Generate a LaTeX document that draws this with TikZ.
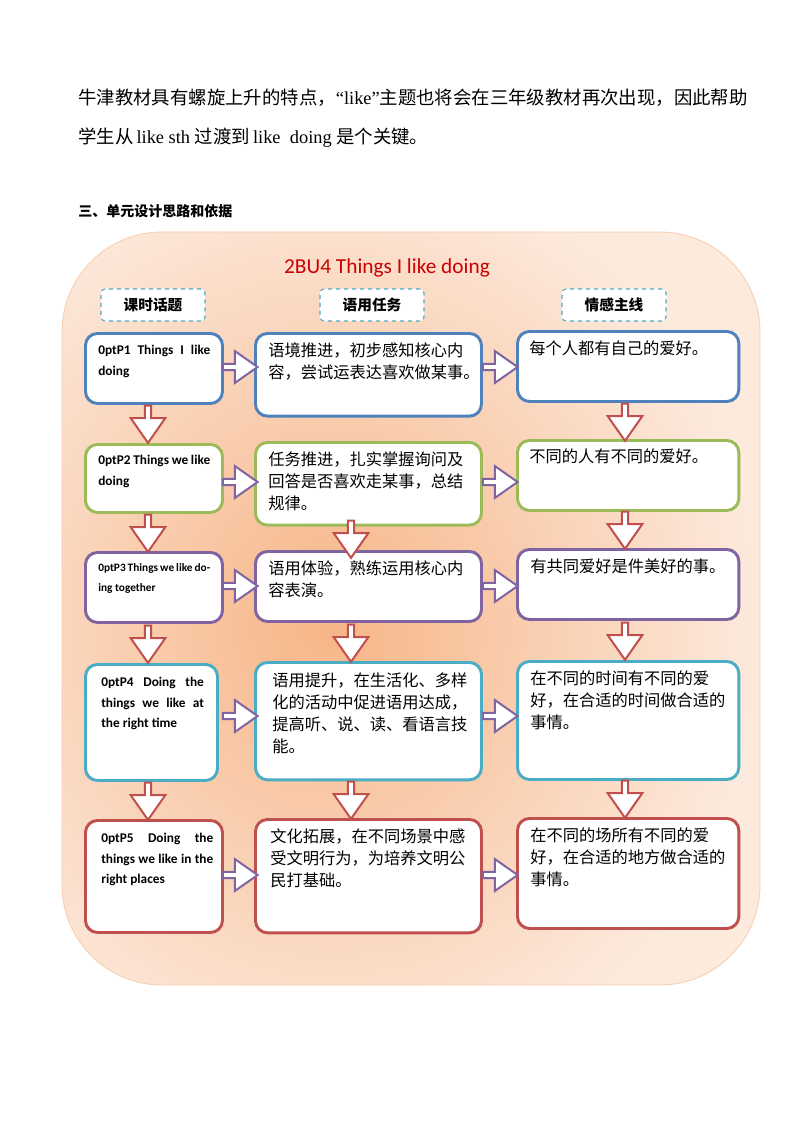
\documentclass[tikz,border=0pt]{standalone}
\usepackage{fontspec}
\setmainfont{Liberation Serif}
\newfontfamily\cjk{Noto Sans CJK SC}
\newfontfamily\carl{Carlito}
\usetikzlibrary{shapes.arrows}
\definecolor{cblue}{HTML}{4F81BD}
\definecolor{cgreen}{HTML}{9BBB59}
\definecolor{cpurple}{HTML}{8064A2}
\definecolor{cteal}{HTML}{4BACC6}
\definecolor{cred}{HTML}{C0504D}
\definecolor{corange}{HTML}{F6B88E}
\tikzset{
 bx/.style={draw,line width=2.2pt,rounded corners=9pt,fill=white,anchor=north west,inner sep=0pt},
 hd/.style={draw=cteal,dashed,line width=0.8pt,fill=white,rounded corners=3pt,minimum width=78pt,minimum height=24pt,font=\cjk\bfseries\fontsize{11}{13}\selectfont},
 harr/.style={single arrow,draw=cpurple,line width=1.5pt,fill=white,minimum height=26pt,minimum width=24pt,single arrow head extend=3pt,inner sep=0pt,single arrow tip angle=70},
 varr/.style={single arrow,draw=cred,line width=1.5pt,fill=white,minimum height=28pt,minimum width=26pt,single arrow head extend=3.5pt,inner sep=0pt,shape border rotate=270,single arrow tip angle=70},
 ct/.style={font=\cjk\fontsize{12.2}{16.5}\selectfont,align=left,anchor=north west,inner sep=0pt},
 pt/.style={font=\carl\bfseries\fontsize{10}{15.5}\selectfont\hyphenpenalty=10000,align=justify,anchor=north west,inner sep=0pt,text width=84pt}
}
\begin{document}
\begin{tikzpicture}[x=0.75pt,y=-0.75pt]
\useasboundingbox[fill=white] (0,0) rectangle (794,1123);
\node[anchor=west,inner sep=0pt,font=\fontsize{13.8}{16}\selectfont] (l1) at (78,98) {{\cjk 牛津教材具有螺旋上升的特点，}“like”{\cjk 主题也将会在三年级教材再次出现，因此帮助}};
\node[anchor=west,inner sep=0pt,font=\fontsize{13.8}{16}\selectfont] (l2) at (78,138) {{\cjk 学生从}\,like sth {\cjk 过渡到}\,like\ \ doing {\cjk 是个关键。}};
\node[anchor=west,inner sep=0pt,font=\cjk\bfseries\fontsize{10.5}{13}\selectfont] (l3) at (78,211) {三、单元设计思路和依据};
\begin{scope}
\clip[rounded corners=75pt] (62,232) rectangle (760,985);
\fill[corange!30] (62,232) rectangle (760,985);
\shade[inner color=corange!95!orange,outer color=corange!30] (-100,150) rectangle (760,1100);
\end{scope}
\draw[draw=corange!70,line width=0.6pt,rounded corners=75pt] (62,232) rectangle (760,985);
\node[text=red!80!black,font=\carl\fontsize{16}{18}\selectfont] (t) at (387,268) {2BU4 Things I like doing};
\node[hd] (h1) at (153,305) {课时话题};
\node[hd] (h2) at (372,305) {语用任务};
\node[hd] (h3) at (614,305) {情感主线};
% column 1
\node[bx,draw=cblue,minimum width=102.75pt,minimum height=52.5pt] (a1) at (84,332) {};
\node[bx,draw=cgreen,minimum width=102.75pt,minimum height=51pt] (a2) at (84,443) {};
\node[bx,draw=cpurple,minimum width=102.75pt,minimum height=52.5pt] (a3) at (84,551) {};
\node[bx,draw=cteal,minimum width=99pt,minimum height=87pt] (a4) at (84,663) {};
\node[bx,draw=cred,minimum width=102.75pt,minimum height=84pt] (a5) at (84,819) {};
% column 2
\node[bx,draw=cblue,minimum width=169.5pt,minimum height=62pt] (b1) at (254,332) {};
\node[bx,draw=cgreen,minimum width=169.5pt,minimum height=62pt] (b2) at (254,441) {};
\node[bx,draw=cpurple,minimum width=169.5pt,minimum height=52.5pt] (b3) at (254,550) {};
\node[bx,draw=cteal,minimum width=169.5pt,minimum height=88pt] (b4) at (254,661) {};
\node[bx,draw=cred,minimum width=169.5pt,minimum height=85pt] (b5) at (254,818) {};
% column 3
\node[bx,draw=cblue,minimum width=166pt,minimum height=52.5pt] (c1) at (516,330) {};
\node[bx,draw=cgreen,minimum width=166pt,minimum height=52.5pt] (c2) at (516,439) {};
\node[bx,draw=cpurple,minimum width=166pt,minimum height=52.5pt] (c3) at (516,548) {};
\node[bx,draw=cteal,minimum width=166pt,minimum height=88.5pt] (c4) at (516,660) {};
\node[bx,draw=cred,minimum width=166pt,minimum height=82.5pt] (c5) at (516,817) {};
% texts col1
\node[pt] at (98,345) {P1 Things I like doing};
\node[pt] at (98,455) {P2 Things we like doing};
\node[pt,font=\carl\bfseries\fontsize{8.5}{15.5}\selectfont\hyphenpenalty=10000] at (98,563) {P3 Things we like doing together};
\node[pt,text width=77pt] at (101,677) {P4 Doing the things we like at the right time};
\node[pt] at (101,833) {P5 Doing the things we like in the right places};
% texts col2
\node[ct] at (268,342) {语境推进，初步感知核心内\\容，尝试运表达喜欢做某事。};
\node[ct] at (268,451) {任务推进，扎实掌握询问及\\回答是否喜欢走某事，总结\\规律。};
\node[ct] at (268,560) {语用体验，熟练运用核心内\\容表演。};
\node[ct] at (272,673) {语用提升，在生活化、多样\\化的活动中促进语用达成，\\提高听、说、读、看语言技\\能。};
\node[ct] at (270,828) {文化拓展，在不同场景中感\\受文明行为，为培养文明公\\民打基础。};
% texts col3
\node[ct] at (529,340) {每个人都有自己的爱好。};
\node[ct] at (529,449) {不同的人有不同的爱好。};
\node[ct] at (530,558) {有共同爱好是件美好的事。};
\node[ct] at (530,670) {在不同的时间有不同的爱\\好，在合适的时间做合适的\\事情。};
\node[ct] at (530,827) {在不同的场所有不同的爱\\好，在合适的地方做合适的\\事情。};
% horizontal arrows
\foreach \i/\y in {1/367,2/482,3/586,4/716,5/875}{
 \node[harr] (ha\i) at (238,\y) {};
 \node[harr] (hb\i) at (498,\y) {};
}
% vertical arrows
\node[varr] (va1) at (148,422) {};
\node[varr] (va2) at (148,531) {};
\node[varr] (va3) at (148,642) {};
\node[varr] (va4) at (148,799) {};
\node[varr] (vb2) at (351,537) {};
\node[varr] (vb3) at (351,641) {};
\node[varr] (vb4) at (351,798) {};
\node[varr] (vc1) at (625,420) {};
\node[varr] (vc2) at (625,528) {};
\node[varr] (vc3) at (625,639) {};
\node[varr] (vc4) at (625,797) {};
\end{tikzpicture}
\end{document}
